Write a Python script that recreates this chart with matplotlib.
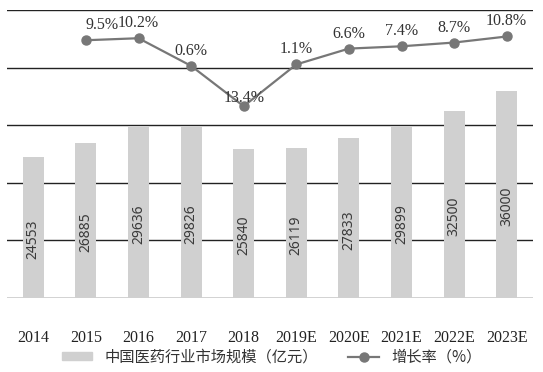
import matplotlib
matplotlib.use("Agg")
import matplotlib.pyplot as plt
from matplotlib.lines import Line2D
from matplotlib.patches import Patch

years = ["2014", "2015", "2016", "2017", "2018", "2019E", "2020E", "2021E", "2022E", "2023E"]
market = [24553, 26885, 29636, 29826, 25840, 26119, 27833, 29899, 32500, 36000]
growth_years = years[1:]
growth = [9.5, 10.2, 0.6, -13.4, 1.1, 6.6, 7.4, 8.7, 10.8]

plt.rcParams['font.family'] = ['Noto Sans CJK SC', 'DejaVu Sans']

fig = plt.figure(figsize=(5.43, 3.72), dpi=100)
ax = fig.add_axes([7 / 543, 1 - 298 / 372, 526 / 543, 288 / 372])
x = list(range(len(years)))

ax.set_ylim(0, 50000)
ax.set_xlim(-0.5, len(years) - 0.5)
for gy in range(0, 50001, 10000):
    ax.axhline(gy, color='#222222', lw=1.0, zorder=1)
ax.bar(x, market, width=0.4, color='#d0d0d0', zorder=2)
for xi, v in zip(x, market):
    ax.annotate(str(v), (xi, v / 2), xytext=(0, -12), textcoords='offset pixels',
                rotation=90, ha='center', va='center', fontsize=10,
                family='Noto Sans', color='#3a3a3a', zorder=3)

ax.set_xticks(x)
ax.set_xticklabels(years, family='Liberation Serif', fontsize=11.5, color='#222222')
ax.tick_params(axis='x', length=0, pad=23)
ax.set_yticks([])
for s in ax.spines.values():
    s.set_visible(False)

ax2 = ax.twinx()
ax2.set_ylim(-80, 20)
gx = [years.index(y) for y in growth_years]
ax2.plot(gx, growth, color='#777777', lw=1.6, marker='o', markersize=6.5, zorder=5)
for xi, v, y in zip(gx, growth, growth_years):
    dx, dy = 0, 15
    ha = 'center'
    if y == "2015":
        ha, dx = 'left', 0
    if v < 0:
        dy = 8
    ax2.annotate(f"{abs(v)}%", (xi, v), xytext=(dx, dy), textcoords='offset pixels',
                 ha=ha, va='center', fontsize=11.5, family='Liberation Serif',
                 color='#333333', zorder=6)
ax2.set_yticks([])
for s in ax2.spines.values():
    s.set_visible(False)

handles = [Patch(color='#d0d0d0'),
           Line2D([], [], color='#777777', lw=1.6, marker='o', markersize=6.5)]
labels = ["中国医药行业市场规模（亿元）", "增长率（%）"]
fig.legend(handles, labels, loc='center', bbox_to_anchor=(0.5, 1 - 357 / 372), ncol=2,
           frameon=False, fontsize=11, handlelength=2.0, handleheight=0.5,
           columnspacing=2.0, labelcolor='#333333')

fig.savefig("out.png", dpi=100)
